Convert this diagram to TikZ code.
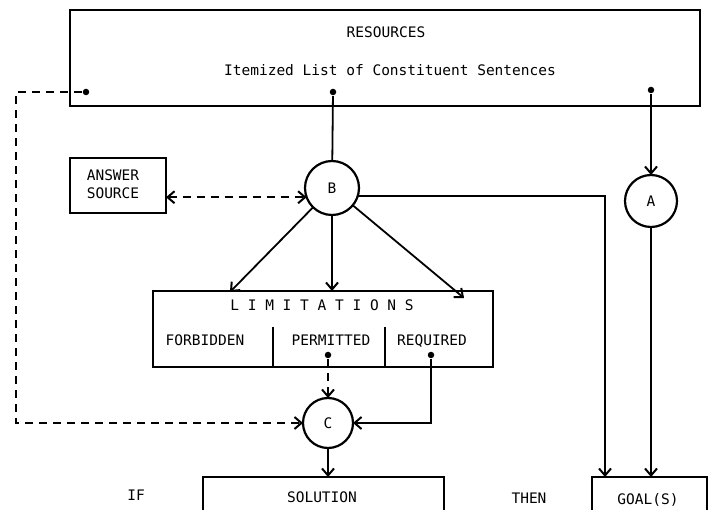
\documentclass[tikz,border=0pt]{standalone}
\usepackage{fontspec}
\setmonofont{DejaVu Sans Mono}
\usetikzlibrary{arrows.meta}
\begin{document}
\begin{tikzpicture}[x=1pt,y=-1pt,line width=1.8pt,
  lbl/.style={font=\ttfamily\fontsize{14.5}{18}\selectfont, inner sep=0pt},
  box/.style={draw, inner sep=0pt, outer sep=0pt},
  circ/.style={circle, draw, line width=2.2pt, minimum size=52pt, inner sep=0pt, outer sep=0pt, font=\ttfamily\fontsize{14.5}{18}\selectfont},
  tip/.style={-{Straight Barb[length=7pt,width=12pt,line width=2pt]}},
  tips/.style={{Straight Barb[length=7pt,width=12pt,line width=2pt]}-{Straight Barb[length=7pt,width=12pt,line width=2pt]}},
  dsh/.style={dash pattern=on 8pt off 6pt},
  dot/.style={circle, fill, inner sep=0pt, minimum size=6.5pt}]
\useasboundingbox (0,0) rectangle (715,510);
\clip (0,0) rectangle (715,510);

% boxes
\node[box, minimum width=630pt, minimum height=96pt] (res) at (385,58) {};
\node[box, minimum width=96pt, minimum height=55pt] (ans) at (118,185.5) {};
\node[box, minimum width=340pt, minimum height=76pt] (lim) at (323,329) {};
\node[box, minimum width=241pt, minimum height=60pt] (sol) at (323.5,507) {};
\node[box, minimum width=115pt, minimum height=60pt] (goal) at (649.5,507) {};
\draw (273,327) -- (273,367);
\draw (385,327) -- (385,367);

% circles
\node[circ, minimum size=54pt] (B) at (332,188) {B};
\node[circ] (A) at (651,201) {A};
\node[circ, minimum size=50pt] (C) at (328,423) {C};

% texts
\node[lbl] (t1) at (386,32) {RESOURCES};
\node[lbl] (t2) at (390,70) {Itemized List of Constituent Sentences};
\node[lbl, align=left] (t3) at (113,184.5) {ANSWER\\SOURCE};
\node[lbl] (t4) at (322,305) {L I M I T A T I O N S};
\node[lbl] (t5) at (205,340) {FORBIDDEN};
\node[lbl] (t6) at (331,340) {PERMITTED};
\node[lbl] (t7) at (432,341) {REQUIRED};
\node[lbl] (t8) at (136,495) {IF};
\node[lbl] (t9) at (322,497) {SOLUTION};
\node[lbl] (t10) at (529,498) {THEN};
\node[lbl] (t11) at (648,500) {GOAL(S)};

% dots
\node[dot] (d1) at (86,92) {};
\node[dot] (d2) at (333,92) {};
\node[dot] (d3) at (651,90) {};
\node[dot] (dp) at (328,355) {};
\node[dot] (dr) at (431,355) {};

% helper coordinates
\coordinate (k1) at (16,92);
\coordinate (l1) at (230,292);
\coordinate (l2) at (332,291);
\coordinate (l3) at (464,298);
\coordinate (g1) at (605,477);

% connectors
\draw (d2) -- (B);
\draw[tip] (d3) -- (A);
\draw[tip] (A) -- (A |- goal.north);
\draw[tip] (B.-17) -| (g1);
\draw[tip] (B) -- (l1);
\draw[tip] (B) -- (l2);
\draw[tip] (B) -- (l3);
\draw[tips, dsh] (B.200 -| ans.east) -- (B.200);
\draw[tip, dsh] (d1) -- (k1) |- (C.west);
\draw[tip, dsh] (dp) -- (C.north);
\draw[tip] (dr) |- (C.east);
\draw[tip] (C) -- (C |- sol.north);
\end{tikzpicture}
\end{document}
